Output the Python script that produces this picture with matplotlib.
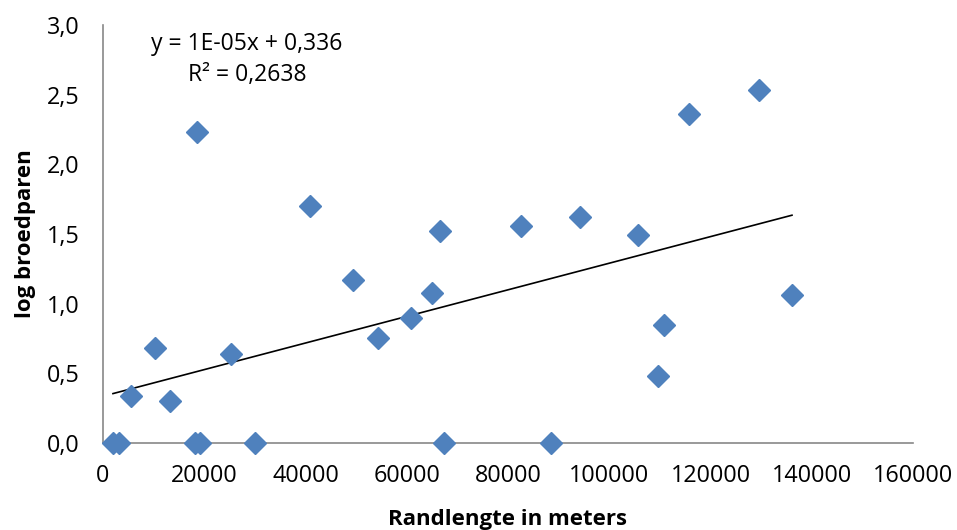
import numpy as np
import matplotlib.pyplot as plt
from matplotlib.ticker import FuncFormatter

# data
randlengte = [1975, 3160, 5530, 10270, 13230, 18570, 18170, 19160, 25280, 30020,
              40890, 49380, 54320, 60840, 64990, 66570, 67360, 82570, 88490, 94220,
              105680, 109630, 110810, 115750, 129580, 136100]
log_broedparen = [0.0, 0.0, 0.34, 0.68, 0.30, 2.23, 0.0, 0.0, 0.64, 0.0,
                  1.70, 1.17, 0.75, 0.90, 1.08, 1.52, 0.0, 1.56, 0.0, 1.62,
                  1.49, 0.48, 0.85, 2.36, 2.53, 1.06]
vgl_tekst = "y = 1E-05x + 0,336"
r2_tekst = "R² = 0,2638"

plt.rcParams['font.family'] = ['Open Sans', 'DejaVu Sans']

fig = plt.figure(figsize=(9.57, 5.30), dpi=100)
ax = fig.add_axes([0.1076, 0.1642, 0.8464, 0.7886])

x = np.array(randlengte)
y = np.array(log_broedparen)

# linear trendline
a, b = np.polyfit(x, y, 1)
xl = np.array([x.min(), x.max()])
ax.plot(xl, a * xl + b, color='black', lw=1.2, zorder=2)

ax.plot(x, y, 'D', color='#4F81BD', ms=11, mec='#4F81BD', zorder=3, clip_on=False)

ax.set_xlim(0, 160000)
ax.set_ylim(0, 3.0)
ax.set_xticks(np.arange(0, 160001, 20000))
ax.set_yticks(np.arange(0, 3.01, 0.5))
ax.yaxis.set_major_formatter(FuncFormatter(lambda v, p: f"{v:.1f}".replace('.', ',')))
ax.tick_params(length=0, labelsize=16.8)
ax.tick_params(axis='x', pad=15)
ax.tick_params(axis='y', pad=17)

for s in ['top', 'right']:
    ax.spines[s].set_visible(False)
for s in ['left', 'bottom']:
    ax.spines[s].set_color('#888888')
    ax.spines[s].set_linewidth(1.2)

ax.set_xlabel("Randlengte in meters", fontsize=16, fontweight='bold', labelpad=15)
ax.set_ylabel("log broedparen", fontsize=16, fontweight='bold', labelpad=8)

ax.text(0.178, 0.94, vgl_tekst, transform=ax.transAxes, ha='center', fontsize=16.5)
ax.text(0.178, 0.865, r2_tekst, transform=ax.transAxes, ha='center', fontsize=16.5)

fig.savefig("out.png", dpi=100)
